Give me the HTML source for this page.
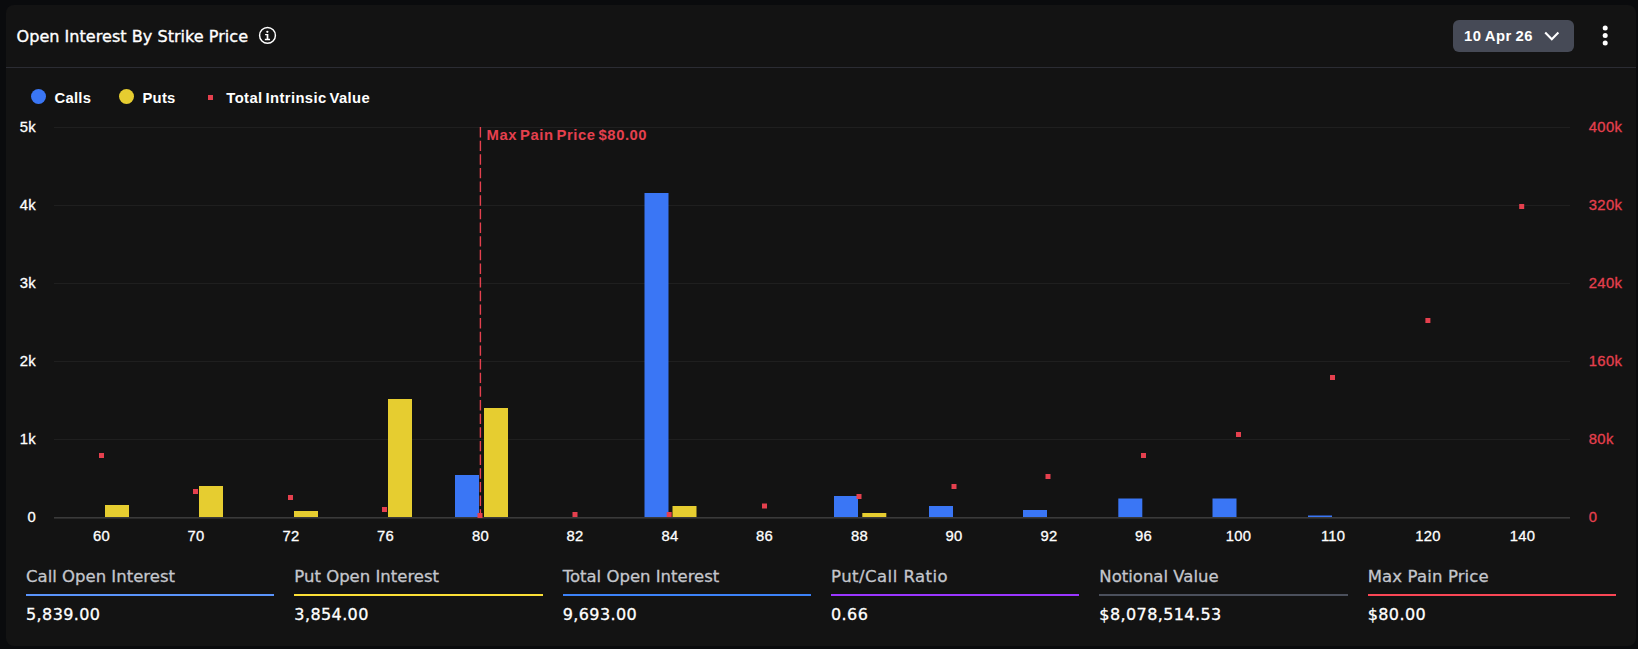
<!DOCTYPE html>
<html lang="en"><head><meta charset="utf-8"><title>Open Interest By Strike Price</title>
<style>
*{box-sizing:border-box;margin:0;padding:0}
html,body{width:1638px;height:649px;background:#0a0b0d;overflow:hidden;font-family:"Liberation Sans",sans-serif;color:#fff}
.card{position:absolute;left:6px;top:5px;width:1630px;height:641px;background:#131313;border-radius:8px}
.hr{position:absolute;left:6px;top:67px;width:1630px;height:1px;background:#2b2c33}
.dj{font-family:"DejaVu Sans","Liberation Sans",sans-serif}
.title{-webkit-text-stroke:0.35px #fff;position:absolute;left:16.5px;top:26.1px;font-size:16.1px;line-height:22px;white-space:nowrap}
.info{position:absolute;left:255px;top:23px}
.btn{position:absolute;left:1453px;top:20px;width:121px;height:32px;border-radius:6px;background:#464a56}
.btn span{position:absolute;left:11px;top:6.7px;font-size:14.8px;letter-spacing:0.6px;word-spacing:-1.15px;font-weight:700;line-height:18px;white-space:nowrap}
.btn svg{position:absolute;left:90px;top:10px}
.kebab{position:absolute;left:1601.5px;top:24.9px}
.lg{position:absolute;top:88.8px;font-size:14.8px;letter-spacing:0.25px;font-weight:700;line-height:18px;white-space:nowrap}
#lg3{letter-spacing:0.4px;word-spacing:-1.6px}
.dot{position:absolute;width:15px;height:15px;border-radius:50%;top:88.8px}
.chart{position:absolute;left:0;top:0}
.chart text{font-family:"Liberation Sans",sans-serif}
.xl,.yl{font-size:14.8px;fill:#fff;letter-spacing:0.25px;stroke:#fff;stroke-width:0.3px}
.yr{font-size:14.8px;fill:#e5404e;letter-spacing:0.4px;stroke:#e5404e;stroke-width:0.3px}
.mp{font-size:14.8px;font-weight:700;fill:#e5404e;letter-spacing:0.53px;word-spacing:-1.5px}
.stat{position:absolute;top:565.85px;width:248.33px;height:70px}
.sl{-webkit-text-stroke:0.3px #c4c6cc;position:absolute;left:0;top:0;font-size:16.5px;line-height:22px;color:#c4c6cc;white-space:nowrap}
.sb{position:absolute;left:0;top:28.15px;width:100%;height:2px}
.sv{-webkit-text-stroke:0.3px #fff;position:absolute;left:0;top:38px;font-size:16px;letter-spacing:0.4px;line-height:22px;color:#fff;white-space:nowrap}
</style></head><body>
<div class="card"></div>
<div class="hr"></div>
<div class="title dj" id="title">Open Interest By Strike Price</div>
<svg class="info" width="26" height="25" viewBox="255 23 26 25"><circle cx="267.5" cy="35.4" r="7.9" fill="none" stroke="#fff" stroke-width="1.45"/><circle cx="267.35" cy="31.85" r="1.15" fill="#fff"/><path d="M265.1 34h3.25v4.85h1.7v1.3h-5.2v-1.3h1.8v-3.6h-1.55z" fill="#fff"/></svg>
<div class="btn"><span id="btnt">10 Apr 26</span><svg width="18" height="14" viewBox="0 0 18 14"><path d="M2.2 2.6l6.6 6.7 6.6-6.7" fill="none" stroke="#fff" stroke-width="2.1"/></svg></div>
<svg class="kebab" width="7" height="22" viewBox="0 0 7 22"><circle cx="3.2" cy="3.1" r="2.5" fill="#fff"/><circle cx="3.2" cy="10.4" r="2.5" fill="#fff"/><circle cx="3.2" cy="17.9" r="2.5" fill="#fff"/></svg>
<div class="dot" style="left:30.7px;background:#3a76f5"></div><div class="lg" id="lg1" style="left:54.6px">Calls</div>
<div class="dot" style="left:119px;background:#e6cd30"></div><div class="lg" id="lg2" style="left:142.5px">Puts</div>
<div style="position:absolute;left:208px;top:95px;width:5px;height:5px;background:#e5404e"></div><div class="lg" id="lg3" style="left:226.3px">Total Intrinsic Value</div>
<svg class="chart" width="1638" height="649" viewBox="0 0 1638 649">
<rect x="54" y="127" width="1516" height="1" fill="#1f1f1f"/>
<rect x="54" y="205" width="1516" height="1" fill="#1f1f1f"/>
<rect x="54" y="283" width="1516" height="1" fill="#1f1f1f"/>
<rect x="54" y="361" width="1516" height="1" fill="#1f1f1f"/>
<rect x="54" y="439" width="1516" height="1" fill="#1f1f1f"/>
<rect x="54" y="517" width="1516" height="1.6" fill="#3a3a3a"/>
<rect x="455" y="475" width="24" height="42" fill="#3a76f5"/>
<rect x="644.5" y="193" width="24" height="324" fill="#3a76f5"/>
<rect x="834" y="496" width="24" height="21" fill="#3a76f5"/>
<rect x="929" y="506" width="24" height="11" fill="#3a76f5"/>
<rect x="1023" y="510" width="24" height="7" fill="#3a76f5"/>
<rect x="1118.3" y="498.5" width="24" height="18.5" fill="#3a76f5"/>
<rect x="1212.5" y="498.5" width="24" height="18.5" fill="#3a76f5"/>
<rect x="1308" y="515.5" width="24" height="1.5" fill="#3a76f5"/>
<rect x="105" y="505" width="24" height="12" fill="#e6cd30"/>
<rect x="199" y="486" width="24" height="31" fill="#e6cd30"/>
<rect x="294" y="511" width="24" height="6" fill="#e6cd30"/>
<rect x="388" y="399" width="24" height="118" fill="#e6cd30"/>
<rect x="484" y="408" width="24" height="109" fill="#e6cd30"/>
<rect x="672.5" y="506" width="24" height="11" fill="#e6cd30"/>
<rect x="862.3" y="513" width="24" height="4" fill="#e6cd30"/>
<line x1="480.4" y1="127" x2="480.4" y2="518" stroke="#e5404e" stroke-width="1.4" stroke-dasharray="10.4 3.25"/>
<rect x="99" y="453" width="5" height="5" fill="#e5404e"/>
<rect x="193" y="489" width="5" height="5" fill="#e5404e"/>
<rect x="288" y="495" width="5" height="5" fill="#e5404e"/>
<rect x="382" y="507" width="5" height="5" fill="#e5404e"/>
<rect x="477.5" y="513" width="5" height="5" fill="#e5404e"/>
<rect x="572.5" y="512" width="5" height="5" fill="#e5404e"/>
<rect x="666.7" y="512" width="5" height="5" fill="#e5404e"/>
<rect x="762" y="503.5" width="5" height="5" fill="#e5404e"/>
<rect x="856.5" y="494" width="5" height="5" fill="#e5404e"/>
<rect x="951.5" y="484" width="5" height="5" fill="#e5404e"/>
<rect x="1045.5" y="474" width="5" height="5" fill="#e5404e"/>
<rect x="1141" y="453" width="5" height="5" fill="#e5404e"/>
<rect x="1236" y="432" width="5" height="5" fill="#e5404e"/>
<rect x="1330" y="375" width="5" height="5" fill="#e5404e"/>
<rect x="1425.4" y="318" width="5" height="5" fill="#e5404e"/>
<rect x="1519.2" y="204" width="5" height="5" fill="#e5404e"/>
<text class="xl" x="101.4" y="541.3" text-anchor="middle">60</text>
<text class="xl" x="196.1" y="541.3" text-anchor="middle">70</text>
<text class="xl" x="290.9" y="541.3" text-anchor="middle">72</text>
<text class="xl" x="385.6" y="541.3" text-anchor="middle">76</text>
<text class="xl" x="480.4" y="541.3" text-anchor="middle">80</text>
<text class="xl" x="575.1" y="541.3" text-anchor="middle">82</text>
<text class="xl" x="669.9" y="541.3" text-anchor="middle">84</text>
<text class="xl" x="764.6" y="541.3" text-anchor="middle">86</text>
<text class="xl" x="859.4" y="541.3" text-anchor="middle">88</text>
<text class="xl" x="954.1" y="541.3" text-anchor="middle">90</text>
<text class="xl" x="1048.9" y="541.3" text-anchor="middle">92</text>
<text class="xl" x="1143.6" y="541.3" text-anchor="middle">96</text>
<text class="xl" x="1238.4" y="541.3" text-anchor="middle">100</text>
<text class="xl" x="1333.1" y="541.3" text-anchor="middle">110</text>
<text class="xl" x="1427.9" y="541.3" text-anchor="middle">120</text>
<text class="xl" x="1522.6" y="541.3" text-anchor="middle">140</text>
<text class="yl" x="36" y="132.4" text-anchor="end">5k</text>
<text class="yl" x="36" y="210.4" text-anchor="end">4k</text>
<text class="yl" x="36" y="288.4" text-anchor="end">3k</text>
<text class="yl" x="36" y="366.4" text-anchor="end">2k</text>
<text class="yl" x="36" y="444.4" text-anchor="end">1k</text>
<text class="yl" x="36" y="522.4" text-anchor="end">0</text>
<text class="yr" x="1588.7" y="132.4">400k</text>
<text class="yr" x="1588.7" y="210.4">320k</text>
<text class="yr" x="1588.7" y="288.4">240k</text>
<text class="yr" x="1588.7" y="366.4">160k</text>
<text class="yr" x="1588.7" y="444.4">80k</text>
<text class="yr" x="1588.7" y="522.4">0</text>
<text class="mp" x="486.6" y="140">Max Pain Price $80.00</text>
</svg>
<div class="stat" style="left:26.00px"><div class="sl dj" style="letter-spacing:0px">Call Open Interest</div><div class="sb" style="background:#5a94fb"></div><div class="sv dj">5,839.00</div></div>
<div class="stat" style="left:294.33px"><div class="sl dj" style="letter-spacing:0px">Put Open Interest</div><div class="sb" style="background:#fbdf36"></div><div class="sv dj">3,854.00</div></div>
<div class="stat" style="left:562.67px"><div class="sl dj" style="letter-spacing:0px">Total Open Interest</div><div class="sb" style="background:#3c82f8"></div><div class="sv dj">9,693.00</div></div>
<div class="stat" style="left:831.00px"><div class="sl dj" style="letter-spacing:0.47px">Put/Call Ratio</div><div class="sb" style="background:#9a36ff"></div><div class="sv dj">0.66</div></div>
<div class="stat" style="left:1099.33px"><div class="sl dj" style="letter-spacing:0px">Notional Value</div><div class="sb" style="background:#4b505c"></div><div class="sv dj">$8,078,514.53</div></div>
<div class="stat" style="left:1367.66px"><div class="sl dj" style="letter-spacing:0.14px">Max Pain Price</div><div class="sb" style="background:#fa4655"></div><div class="sv dj">$80.00</div></div>

</body></html>
